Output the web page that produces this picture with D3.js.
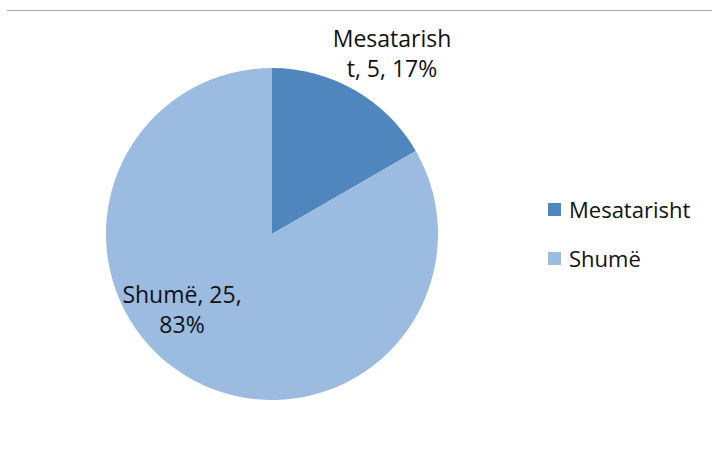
<!DOCTYPE html>
<html>
<head>
<meta charset="utf-8">
<script src="https://cdn.jsdelivr.net/npm/d3@7"></script>
<style>
  body { margin: 0; background: #fff; }
  text { font-family: "Open Sans", "Noto Sans", sans-serif; fill: #111; }
</style>
</head>
<body>
<svg width="712" height="452"></svg>
<script>
const categories = ['Mesatarisht', 'Shumë'];
const values = [5, 25];
const colors = ['#4f86be', '#9bbbe0'];
// data labels wrap as in the original
const labelLines = [['Mesatarish', 't, 5, 17%'], ['Shumë, 25,', '83%']];

const svg = d3.select('svg');
const cx = 272, cy = 234, radius = 166;

svg.append('line')
  .attr('x1', 7).attr('x2', 712)
  .attr('y1', 10.5).attr('y2', 10.5)
  .attr('stroke', '#a6a6a6')
  .attr('stroke-width', 1);

const pie = d3.pie().sort(null).value(d => d);
const arcs = pie(values);
const arc = d3.arc().innerRadius(0).outerRadius(radius);

const g = svg.append('g')
  .attr('transform', `translate(${cx}, ${cy})`);

g.selectAll('path').data(arcs)
  .enter().append('path')
  .attr('d', arc)
  .attr('fill', (d, i) => colors[i]);

// label positions (relative to centre)
const labelPos = [[120, -187], [-90, 69]];
const lineH = 30;

g.selectAll('text.lbl').data(arcs)
  .enter().append('text')
  .attr('class', 'lbl')
  .attr('text-anchor', 'middle')
  .attr('font-size', 23)
  .each(function(d, i) {
    const t = d3.select(this);
    labelLines[i].forEach((s, j) => {
      t.append('tspan')
        .attr('x', labelPos[i][0])
        .attr('y', labelPos[i][1] + j * lineH)
        .text(s);
    });
  });

const legend = svg.append('g')
  .attr('transform', 'translate(548, 203)');
const item = legend.selectAll('g').data(categories)
  .enter().append('g')
  .attr('transform', (d, i) => `translate(0, ${i * 49})`);
item.append('rect')
  .attr('width', 13).attr('height', 13)
  .attr('fill', (d, i) => colors[i]);
item.append('text')
  .attr('x', 21).attr('y', 15)
  .attr('font-size', 22)
  .text(d => d);
</script>
</body>
</html>
